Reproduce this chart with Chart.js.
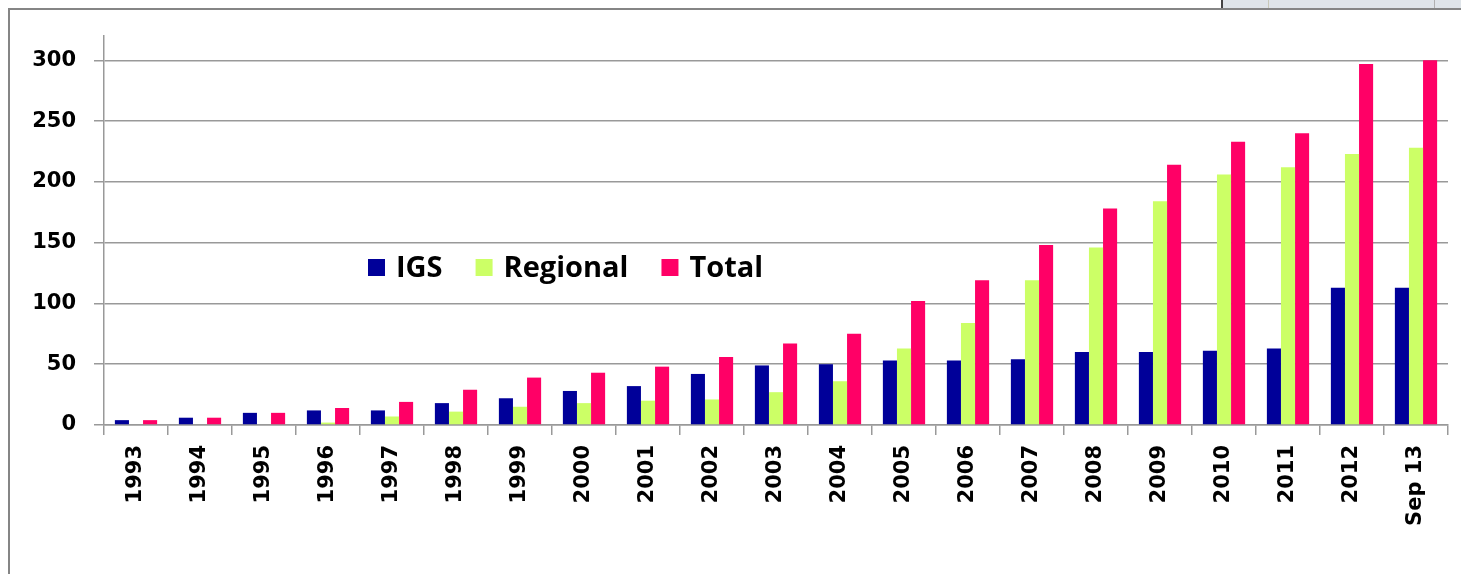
<!DOCTYPE html>
<html>
<head>
<meta charset="utf-8">
<script src="https://cdn.jsdelivr.net/npm/chart.js@4.4.1/dist/chart.umd.min.js"></script>
<style>
  html, body { margin: 0; padding: 0; background: #ffffff; }
  body { width: 1461px; height: 574px; position: relative; overflow: hidden; }
  #frame { position: absolute; left: 8px; top: 8px; right: -10px; bottom: -10px;
           border-top: 2px solid #858585; border-left: 2px solid #858585; }
  #strip { position: absolute; left: 1221px; top: 0; width: 240px; height: 8px;
           background: #dfe4e9; border-left: 2px solid #444; }
  #strip2 { position: absolute; left: 1268px; top: 0; width: 1px; height: 8px; background: #c8c8b8; }
  #strip3 { position: absolute; left: 1434px; top: 0; width: 1px; height: 8px; background: #b0b0b0; }
  #wrap { position: absolute; left: 0; top: 0; width: 1461px; height: 574px; }
</style>
</head>
<body>
<div id="frame"></div>
<div id="strip"></div><div id="strip2"></div><div id="strip3"></div>
<div id="wrap"><canvas id="c" width="1461" height="574"></canvas></div>
<script>
const categories = ["1993","1994","1995","1996","1997","1998","1999","2000","2001","2002","2003","2004","2005","2006","2007","2008","2009","2010","2011","2012","Sep 13"];
const igs      = [4, 6, 10, 12, 12, 18, 22, 28, 32, 42, 49, 50, 53, 53, 54, 60, 60, 61, 63, 113, 113];
const regional = [0, 0, 0, 2, 7, 11, 15, 18, 20, 21, 27, 36, 63, 84, 119, 146, 184, 206, 212, 223, 228];
const total    = [4, 6, 10, 14, 19, 29, 39, 43, 48, 56, 67, 75, 102, 119, 148, 178, 214, 233, 240, 297, 300];
const seriesNames = ["IGS", "Regional", "Total"];
const seriesColors = ["#000099", "#ccff66", "#ff0066"];

const gridColor = "#999999";
const tickFont = { family: "DejaVu Sans", weight: "bold", size: 21 };

const inlineLegend = {
  id: "inlineLegend",
  afterDraw(chart) {
    const ctx = chart.ctx;
    ctx.save();
    ctx.font = "bold 29px 'Open Sans'";
    ctx.textBaseline = "alphabetic";
    ctx.textAlign = "left";
    let x = 368;
    const box = 17, boxTop = 259, baseY = 277;
    chart.data.datasets.forEach(ds => {
      ctx.fillStyle = ds.backgroundColor;
      ctx.fillRect(x, boxTop, box, box);
      ctx.fillStyle = "#000000";
      ctx.fillText(ds.label, x + box + 11, baseY);
      x += box + 11 + ctx.measureText(ds.label).width + 33;
    });
    ctx.restore();
  }
};

new Chart(document.getElementById("c"), {
  type: "bar",
  data: {
    labels: categories,
    datasets: [
      { label: seriesNames[0], data: igs, backgroundColor: seriesColors[0] },
      { label: seriesNames[1], data: regional, backgroundColor: seriesColors[1] },
      { label: seriesNames[2], data: total, backgroundColor: seriesColors[2] }
    ]
  },
  options: {
    responsive: false,
    animation: false,
    devicePixelRatio: 1,
    layout: { padding: { top: 36, right: 13, bottom: 0, left: 0 } },
    datasets: { bar: { categoryPercentage: 0.66, barPercentage: 1.0, borderWidth: 0 } },
    plugins: { legend: { display: false }, tooltip: { enabled: false } },
    scales: {
      x: {
        grid: { display: true, drawOnChartArea: false, drawTicks: true, tickLength: 10, color: gridColor, lineWidth: 1.5, offset: true },
        border: { display: true, color: gridColor, width: 1.5 },
        ticks: { color: "#000000", font: tickFont, minRotation: 90, maxRotation: 90, padding: 10, autoSkip: false },
        afterFit(s) { s.height = 149; }
      },
      y: {
        min: 0, max: 320,
        grid: { display: true, drawOnChartArea: true, drawTicks: true, tickLength: 10, color: gridColor, lineWidth: 1.5 },
        border: { display: true, color: gridColor, width: 1.5 },
        ticks: { stepSize: 50, includeBounds: false, color: "#000000", font: tickFont, padding: 18 },
        afterFit(s) { s.width = 104; }
      }
    }
  },
  plugins: [inlineLegend]
});
</script>
</body>
</html>
